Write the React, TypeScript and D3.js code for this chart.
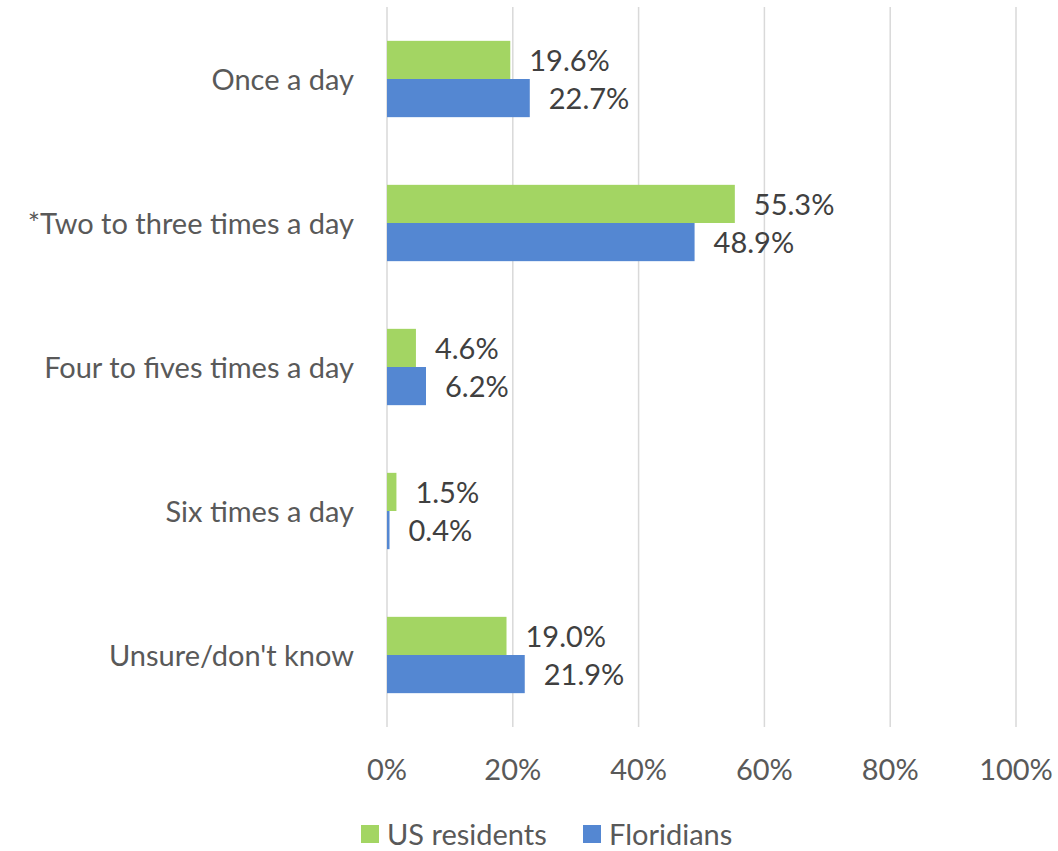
import React from "react";
import * as d3 from "d3";

const categories = [
  "Once a day",
  "*Two to three times a day",
  "Four to fives times a day",
  "Six times a day",
  "Unsure/don't know",
];
const usResidents = [19.6, 55.3, 4.6, 1.5, 19.0];
const floridians = [22.7, 48.9, 6.2, 0.4, 21.9];
const seriesNames = ["US residents", "Floridians"];
const seriesColors = ["#a3d563", "#5487d2"];
const xTicks = [0, 20, 40, 60, 80, 100];

const W = 1058;
const H = 851;
const left = 387;
const right = 1016;
const top = 7;
const bottom = 727;
const FONT = "Lato, 'Open Sans', sans-serif";
const TEXT = "#595959";
const FS = 29;

export default function App() {
  const x = d3.scaleLinear().domain([0, 100]).range([left, right]);
  const y = d3.scaleBand<string>().domain(categories).range([top, bottom]).paddingInner(0.47).paddingOuter(0.235);
  const bw = y.bandwidth() / 2;
  const series = [usResidents, floridians];
  const legendX = [361, 583];
  return (
    <svg width={W} height={H} style={{ position: "absolute", left: 0, top: 0, background: "#fff" }}>
      {xTicks.map((t) => (
        <line key={t} x1={x(t)} x2={x(t)} y1={top} y2={bottom} stroke="#d9d9d9" strokeWidth={1.5} />
      ))}
      {categories.map((c, i) => (
        <g key={c}>
          {series.map((s, j) => {
            const yy = (y(c) as number) + j * bw;
            return (
              <g key={j}>
                <rect x={x(0)} y={yy} width={x(s[i]) - x(0)} height={bw} fill={seriesColors[j]} />
                <text
                  x={x(s[i]) + 19}
                  y={yy + bw / 2 + 4}
                  fontFamily={FONT}
                  fontSize={FS}
                  fill="#404040"
                  dominantBaseline="middle"
                >
                  {s[i].toFixed(1)}%
                </text>
              </g>
            );
          })}
          <text
            x={left - 33}
            y={(y(c) as number) + y.bandwidth() / 2 + 4}
            textAnchor="end"
            dominantBaseline="middle"
            fontFamily={FONT}
            fontSize={FS}
            fill={TEXT}
          >
            {c}
          </text>
        </g>
      ))}
      {xTicks.map((t) => (
        <text key={t} x={x(t)} y={773} textAnchor="middle" dominantBaseline="middle" fontFamily={FONT} fontSize={FS} fill={TEXT}>
          {t}%
        </text>
      ))}
      {seriesNames.map((n, j) => (
        <g key={n}>
          <rect x={legendX[j]} y={825} width={18} height={18} fill={seriesColors[j]} />
          <text x={legendX[j] + 26} y={845} fontFamily={FONT} fontSize={FS} fill={TEXT}>
            {n}
          </text>
        </g>
      ))}
    </svg>
  );
}
